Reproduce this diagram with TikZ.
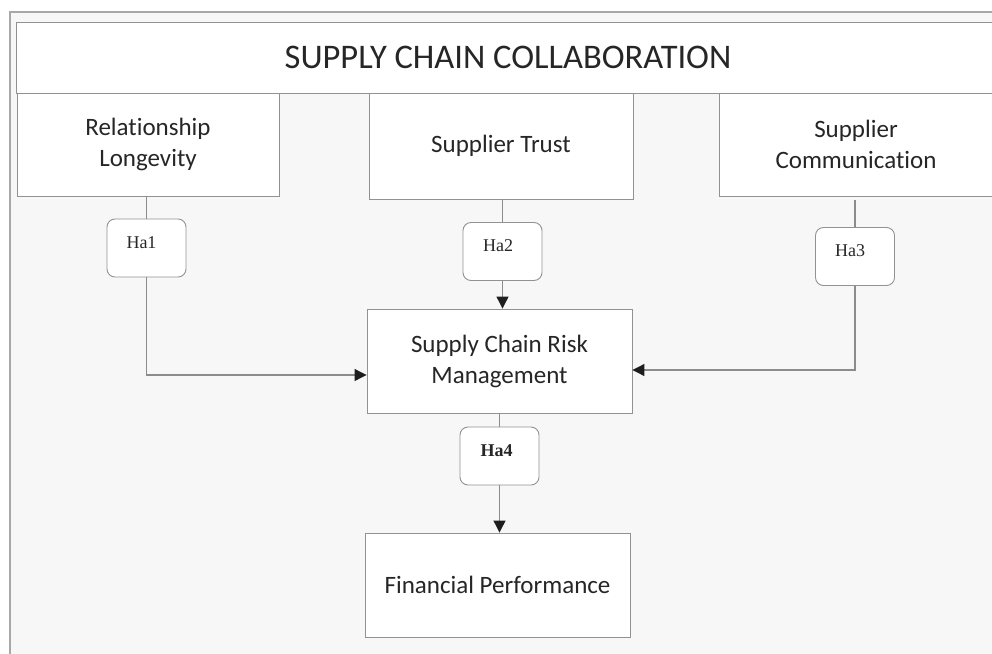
\documentclass[tikz,border=0pt]{standalone}
\usepackage{fontspec}
\setmainfont{Carlito}[Ligatures={NoCommon,NoRare},Contextuals={NoAlternate}]
\newfontfamily\hafont{Liberation Serif}
\usetikzlibrary{arrows.meta}
\definecolor{boxgray}{HTML}{929292}
\definecolor{linegray}{HTML}{8C8C8C}
\definecolor{framegray}{HTML}{A8A8A8}
\definecolor{bgfill}{HTML}{F7F7F7}
\definecolor{textgray}{HTML}{262626}
\definecolor{arrowcol}{HTML}{1E1E1E}
\begin{document}
\begin{tikzpicture}[x=1pt,y=-1pt,
  box/.style={draw=boxgray, line width=0.9pt, fill=white, text=textgray, align=center,
    font=\fontsize{25}{31}\selectfont, inner sep=0pt},
  hbox/.style={draw=boxgray, line width=0.9pt, fill=white, rounded corners=8pt,
    minimum width=79pt, minimum height=58pt, inner sep=0pt, text=textgray,
    font=\hafont\fontsize{18}{20}\selectfont, text height=12pt, text depth=12pt},
  conn/.style={draw=linegray, line width=1.1pt},
  arr/.style={conn, -{Triangle[width=12pt,length=12pt,color=arrowcol]}}
]
\useasboundingbox (0,0) rectangle (992,653);
\clip (0,0) rectangle (992,653);
\fill[white] (0,0) rectangle (992,653);
\filldraw[fill=bgfill, draw=framegray, line width=2pt] (10,12) rectangle (1010,670);

\node[box, minimum width=984pt, minimum height=71pt, font=\fontsize{34.5}{40}\selectfont]
  (title) at (508,57.5) {SUPPLY CHAIN COLLABORATION};
\node[box, minimum width=262pt, minimum height=103pt] (rl) at (148,144.5) {Relationship\\Longevity};
\node[box, minimum width=264pt, minimum height=106pt] (st) at (501,146) {Supplier Trust};
\node[box, minimum width=274pt, minimum height=103pt] (sc) at (856,144.5) {Supplier\\Communication};

\node[hbox] (ha1) at (146.5,248) {Ha1\hspace*{10pt}};
\node[hbox] (ha2) at (502.5,251.5) {Ha2\hspace*{9pt}};
\node[hbox] (ha3) at (855,256.5) {Ha3\hspace*{10pt}};

\node[box, minimum width=265pt, minimum height=104pt] (scrm) at (499.5,361) {Supply Chain Risk\\Management};
\node[hbox, font=\hafont\bfseries\fontsize{18}{20}\selectfont] (ha4) at (499.5,456) {Ha4\hspace*{6pt}};
\node[box, minimum width=265pt, minimum height=104pt] (fp) at (497.5,585) {Financial Performance};

\draw[conn] (ha1.north |- rl.south) -- (ha1.north);
\draw[conn] (ha2.north |- st.south) -- (ha2.north);
\draw[conn] ([yshift=-4pt]ha3.north |- sc.south) -- (ha3.north);
\draw[arr] (ha1.south) |- ([yshift=-14pt]scrm.west);
\draw[arr] (ha2.south) -- (ha2.south |- scrm.north);
\draw[arr] (ha3.south) |- ([yshift=-9pt]scrm.east);
\draw[conn] (ha4.north |- scrm.south) -- (ha4.north);
\draw[arr] (ha4.south) -- (ha4.south |- fp.north);
\end{tikzpicture}
\end{document}
